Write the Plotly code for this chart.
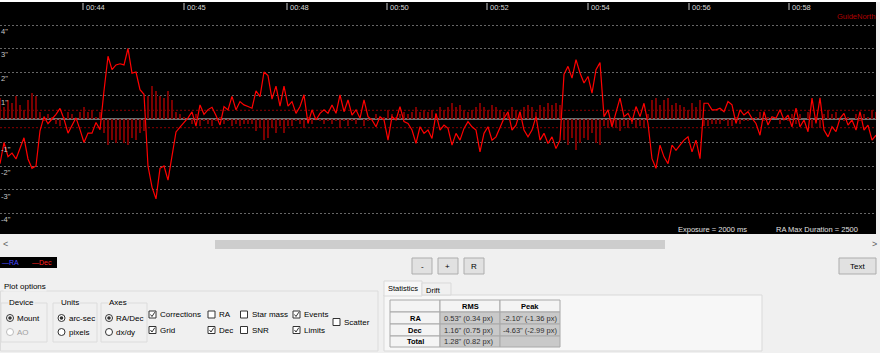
import plotly.graph_objects as go

W, H = 880, 353
FONT = "Liberation Sans"

# ---------------- data ----------------
dec_a = [-1.9, -1.0, -1.6, -1.45, -1.7, -1.25, -0.8, -1.7, -2.1, -2.0,
         -0.5, 0.1, -0.2, 0.0, 0.2, 0.45, 0.0, -0.6, -0.3, 0.05,
         -0.45, -1.0, -0.6, -0.6, -0.15, -0.45, 1.2, 2.67, 2.1, 2.3,
         2.35, 2.3, 3.0, 1.95, 2.0, 1.25, 1.05, -2.0, -2.9, -3.4,
         -2.1, -2.0, -2.6, -1.6, -0.55, -0.35, -0.15, 0.05, 0.3, -0.3,
         0.6, 0.2, 0.4, 0.5, 0.15]
dec_b = [-0.26, 0.53, 0.39, 0.96, 0.39, 0.74, 0.6, 0.53, 0.46, 1.2,
         0.95, 2.0, 1.85, 0.85, 1.4, 0.55, 1.4, 0.55, 0.74, 0.24,
         0.53, 1.03, -0.19, 0.39, -0.04, 0.24, 0.39, 0.24, 0.6, 0.24,
         1.03, 0.31, 0.81, 0.17, 0.39, 0.03, 0.81, 0.1, -0.04, -0.33,
         0.1, -0.04, -0.9, 0.1, -0.04, 0.53, -0.11, -0.19, -0.47, -1.04,
         -0.33, -0.61, -0.47, -0.83, 0.24]
dec_c = [-0.47, -0.26, -0.4, -1.11, -0.61, -0.9, -0.4, -0.11, -0.33, -0.47,
         -1.4, -0.61, -0.33, -0.9, -0.76, -0.33, 0.03, 0.31, -0.47, -0.26,
         0.31, -0.47, -0.76, -0.47, 0.1, -0.9, -0.61, -1.04, -0.76, -1.26,
         -0.9, 1.9, 2.24, 1.74, 2.53, 1.96, 1.53, 1.81, 1.1, 2.1,
         2.4, 0.1, 0.39, -0.33, 0.24, 0.89, 0.1, 0.24, -0.11, 0.53,
         0.1, 0.67, -0.19, -1.69, -2.1]
dec_d = [-1.11, -1.61, -1.9, -1.11, -1.33, -1.11, -0.9, -0.76, -1.4, -0.9,
         -1.69, 0.67, 0.67, 0.39, 0.39, 0.46, 0.31, 0.74, 0.6, -0.19,
         0.39, 0.17, 0.31, 0.03, -0.19, -0.69, 0.31, -0.26, 0.1, 0.03,
         0.39, -0.04, 0.17, -0.33, 0.46, -0.33, -0.04, -0.54, 0.89, -0.19,
         0.9, -0.47, -0.76, -0.33, -0.54, 0.03, 0.24, -0.26, -0.04, -0.47,
         0.31, -0.47, -0.26, -0.9, -0.69]

corr_a = [0.9, 0.5, 0.8, 0.7, 1.0, 0.6, 0.4, 0.8, 1.1, 1.0,
          0.3, -0.1, 0.2, 0.1, -0.2, -0.3, 0.1, 0.3, 0.2, 0.0,
          0.3, 0.5, 0.3, 0.4, 0.1, 0.3, -0.6, -1.1, -0.9, -1.0,
          -0.9, -1.0, -1.1, -0.8, -0.9, -0.6, -0.5, 1.0, 1.4, 1.2,
          1.0, 0.9, 1.2, 0.8, 0.3, 0.2, 0.1, 0.0, -0.2, 0.2,
          -0.3, -0.1, -0.2, -0.3, -0.1]
corr_b = [0.1, -0.2, -0.1, -0.3, -0.2, -0.3, -0.2, -0.2, -0.2, -0.5,
          -0.4, -0.9, -0.8, -0.4, -0.6, -0.3, -0.6, -0.3, -0.3, -0.1,
          -0.2, -0.4, 0.1, -0.2, 0.0, -0.1, -0.2, -0.1, -0.2, -0.1,
          -0.4, -0.1, -0.3, -0.1, -0.2, 0.0, -0.3, -0.1, 0.0, 0.2,
          0.1, 0.1, 0.4, 0.2, 0.1, 0.2, 0.3, 0.2, 0.3, 0.5,
          0.3, 0.4, 0.3, 0.4, 0.2]
corr_c = [0.5, 0.4, 0.5, 0.7, 0.5, 0.6, 0.4, 0.3, 0.4, 0.5,
          0.7, 0.5, 0.4, 0.6, 0.5, 0.4, 0.3, 0.2, 0.5, 0.4,
          0.3, 0.5, 0.6, 0.5, 0.3, 0.6, 0.5, 0.7, 0.6, 0.7,
          0.6, -0.9, -1.1, -0.8, -1.3, -1.0, -0.8, -0.9, -0.6, -1.0,
          -1.1, -0.3, -0.4, -0.2, -0.4, -0.5, -0.3, -0.4, -0.2, -0.4,
          -0.3, -0.4, 0.2, 0.8, 0.9]
corr_d = [0.6, 0.8, 0.9, 0.6, 0.7, 0.6, 0.5, 0.4, 0.7, 0.5,
          0.8, -0.3, -0.3, -0.2, -0.2, -0.2, -0.1, -0.3, -0.3, 0.1,
          -0.2, -0.1, -0.1, 0.0, 0.1, 0.3, -0.1, 0.1, 0.0, 0.0,
          -0.2, 0.0, -0.1, 0.2, -0.2, 0.2, 0.0, 0.3, -0.4, 0.1,
          -0.4, 0.2, 0.4, 0.2, 0.3, 0.0, -0.1, 0.1, 0.0, 0.2,
          -0.1, 0.2, 0.1, 0.4, 0.3]

dec = dec_a + dec_b + dec_c + dec_d
corr = corr_a + corr_b + corr_c + corr_d
frames = list(range(len(dec)))

tick_frames = [20.75, 46, 71.75, 96.75, 121.75, 147, 172.25, 197.25]
tick_labels = ["00:44", "00:45", "00:48", "00:50", "00:52", "00:54", "00:56", "00:58"]
y_grid = [4, 3, 2, 1, -1, -2, -3, -4]
y_labels = ['4"', '3"', '2"', '1"', '-1"', '-2"', '-3"', '-4"']
limit_lines = [0.37, -0.37]

stats_rows = ["RA", "Dec", "Total"]
stats_rms = ['0.53" (0.34 px)', '1.16" (0.75 px)', '1.28" (0.82 px)']
stats_peak = ['-2.10" (-1.36 px)', '-4.63" (-2.99 px)', '']

# ---------------- helpers (pixel -> paper) ----------------
def px(x):
    return x / W

def py(y):
    return 1 - y / H

shapes = []
ann = []

def rect(x0, y0, x1, y1, fill=None, line=None, lw=1):
    shapes.append(dict(type="rect", xref="paper", yref="paper",
                       x0=px(x0), x1=px(x1), y0=py(y1), y1=py(y0),
                       fillcolor=fill or "rgba(0,0,0,0)",
                       line=dict(color=line or "rgba(0,0,0,0)", width=lw if line else 0)))

def circle(cx, cy, r, fill=None, line=None):
    shapes.append(dict(type="circle", xref="paper", yref="paper",
                       x0=px(cx - r), x1=px(cx + r), y0=py(cy + r), y1=py(cy - r),
                       fillcolor=fill or "rgba(0,0,0,0)",
                       line=dict(color=line or "rgba(0,0,0,0)", width=1 if line else 0)))

def text(x, y, s, size=8, color="#000000", anchor="left", bold=False, bg=None):
    d = dict(xref="paper", yref="paper", x=px(x), y=py(y),
             text=("<b>%s</b>" % s) if bold else s, showarrow=False,
             xanchor=anchor, yanchor="middle", borderpad=0,
             font=dict(size=size, color=color, family=FONT))
    if bg:
        d["bgcolor"] = bg
    ann.append(d)

def checkbox(x, y, label, checked):
    rect(x, y - 3.5, x + 7, y + 3.5, fill="#ffffff", line="#333333")
    if checked:
        path = "M %f %f L %f %f L %f %f" % (px(x + 1.5), py(y), px(x + 3), py(y + 2), px(x + 5.8), py(y - 2.3))
        shapes.append(dict(type="path", xref="paper", yref="paper", path=path,
                           line=dict(color="#333333", width=1)))
    text(x + 10, y, label, size=8)

def radio(x, y, label, selected, enabled=True):
    col = "#333333" if enabled else "#bcbcbc"
    circle(x, y, 3.5, fill="#ffffff", line=col)
    if selected:
        circle(x, y, 1.8, fill="#333333")
    text(x + 6, y, label, size=8, color="#000000" if enabled else "#a0a0a0")

# ---------------- plot ----------------
Y_TOP, Y_BOT, Y0, PPU = 2, 234, 119, 23.5
yr = [(Y0 - Y_BOT) / PPU, (Y0 - Y_TOP) / PPU]

fig = go.Figure()
fig.add_trace(go.Bar(x=frames, y=corr, width=0.26,
                     marker=dict(color="#7a0000", line=dict(width=0)), hoverinfo="skip"))
fig.add_trace(go.Scatter(x=frames, y=dec, mode="lines", line=dict(color="#ff0000", width=1.2)))

for v in limit_lines:
    shapes.append(dict(type="line", xref="x domain", yref="y", x0=0, x1=1, y0=v, y1=v,
                       line=dict(color="#8c0000", width=1, dash="2px,2px"), layer="below"))

for f, lab in zip(tick_frames, tick_labels):
    shapes.append(dict(type="line", xref="x", yref="paper", x0=f, x1=f, y0=py(10), y1=py(3),
                       line=dict(color="#c8c8c8", width=1)))
    ann.append(dict(xref="x", yref="paper", x=f, y=py(7), text=lab, showarrow=False,
                    xanchor="left", yanchor="middle", xshift=2, borderpad=0,
                    font=dict(size=7.5, color="#d8d8d8", family=FONT)))

for v, lab in zip(y_grid, y_labels):
    ann.append(dict(xref="paper", yref="y", x=0, y=v, text=lab, showarrow=False,
                    xanchor="left", yanchor="top", yshift=-1, borderpad=0,
                    font=dict(size=7.5, color="#c8c8c8", family=FONT)))

text(876, 16, "GuideNorth", size=7.5, color="#b00000", anchor="right")
text(677, 229, "Exposure = 2000 ms", size=7.5, color="#e0e0e0")
text(775, 229, "RA Max Duration = 2500", size=7.5, color="#e0e0e0")

# ---------------- window chrome below the plot ----------------
rect(0, 0, 880, 2, fill="#ffffff")
rect(215, 240, 665, 249, fill="#cdcdcd")
text(2, 244, "&lt;", size=9, color="#606060")
text(871, 244, "&gt;", size=9, color="#606060")

rect(0, 257, 57, 268, fill="#000000")
text(1, 262.5, "—RA", size=7, color="#4a4aff")
text(31, 262.5, "—Dec", size=7, color="#ff2020")

for (x0, x1, lab) in [(412, 432, "-"), (438, 458, "+"), (464, 484, "R"), (839, 876, "Text")]:
    rect(x0, 258, x1, 274, fill="#e1e1e1", line="#adadad")
    text((x0 + x1) / 2, 266, lab, size=8, anchor="center")

# Plot options group
rect(0.5, 291, 378, 351, line="#dcdcdc")
text(3, 286, "Plot options", size=8, bg="#f0f0f0")
for (x0, x1, title) in [(1, 47, "Device"), (53, 97, "Units"), (101, 147, "Axes")]:
    rect(x0, 303, x1, 342, line="#dcdcdc")
    text(x0 + 7, 302, title, size=8, bg="#f0f0f0")
radio(10, 318, "Mount", True)
radio(10, 332, "AO", False, enabled=False)
radio(61.5, 318, "arc-sec", True)
radio(61.5, 332, "pixels", False)
radio(109, 318, "RA/Dec", True)
radio(109, 332, "dx/dy", False)

checkbox(149, 314.5, "Corrections", True)
checkbox(149, 330, "Grid", True)
checkbox(208, 314.5, "RA", False)
checkbox(208, 330, "Dec", True)
checkbox(240.5, 314.5, "Star mass", False)
checkbox(240.5, 330, "SNR", False)
checkbox(293, 314.5, "Events", True)
checkbox(293, 330, "Limits", True)
checkbox(333, 322, "Scatter", False)

# Statistics panel
rect(384, 295, 762, 351, fill="#f7f7f7", line="#d9d9d9")
rect(384, 281, 422, 296, fill="#f7f7f7", line="#d9d9d9")
rect(422, 283, 451, 295, fill="#f0f0f0", line="#d9d9d9")
text(387, 288, "Statistics", size=7.5)
text(425, 290, "Drift", size=7.5)

cols = [390, 440, 500, 560]
rows = [300, 312, 324, 336, 347]
for r in range(4):
    for c in range(3):
        gray = (r >= 1 and c >= 1)
        rect(cols[c], rows[r], cols[c + 1], rows[r + 1],
             fill="#c9c9c9" if gray else "#f4f4f4", line="#a8a8a8")
text((cols[1] + cols[2]) / 2, (rows[0] + rows[1]) / 2, "RMS", size=7.5, anchor="center", bold=True)
text((cols[2] + cols[3]) / 2, (rows[0] + rows[1]) / 2, "Peak", size=7.5, anchor="center", bold=True)
for i, name in enumerate(stats_rows):
    yc = (rows[i + 1] + rows[i + 2]) / 2
    text((cols[0] + cols[1]) / 2, yc, name, size=7.5, anchor="center", bold=True)
    text(cols[1] + 3, yc, stats_rms[i], size=7.5, color="#303030")
    if stats_peak[i]:
        text(cols[2] + 2, yc, stats_peak[i], size=7.5, color="#303030")

fig.update_layout(
    width=W, height=H, margin=dict(l=0, r=0, t=0, b=0),
    paper_bgcolor="#f0f0f0", plot_bgcolor="#000000",
    showlegend=False, bargap=0,
    xaxis=dict(domain=[0, 876 / W], range=[0, len(dec) - 1], showgrid=False, zeroline=False,
               showticklabels=False, ticks="", fixedrange=True),
    yaxis=dict(domain=[py(Y_BOT), py(Y_TOP)], range=yr, tickvals=y_grid, showticklabels=False,
               ticks="", showgrid=True, gridcolor="#666666", griddash="2px,2px", gridwidth=1,
               zeroline=True, zerolinecolor="#6e6e6e", zerolinewidth=1.5, fixedrange=True),
    shapes=shapes, annotations=ann,
)

fig.write_html("out.html")
